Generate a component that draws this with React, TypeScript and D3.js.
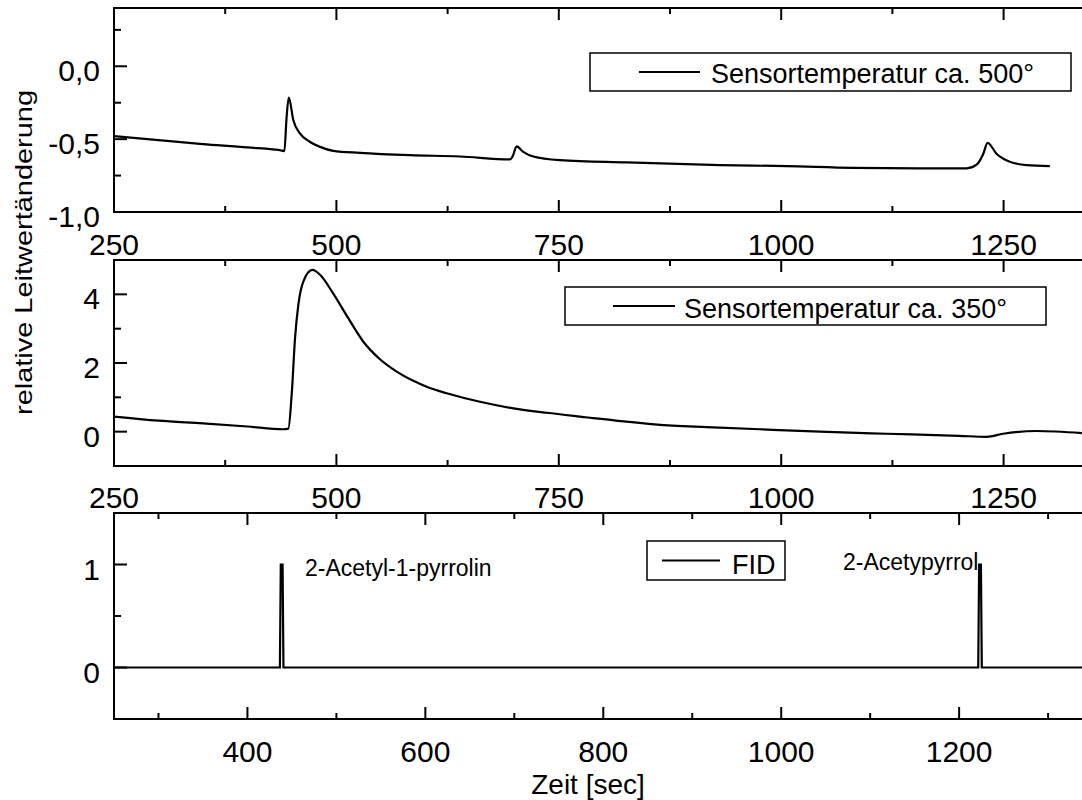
import React from "react";
import * as d3 from "d3";

// ---- Data ----
const t500 = [250, 300, 350, 400, 440, 441.5, 444, 446.5, 451.6, 459, 470, 481.6, 496.5, 526.5, 582.7, 638.9, 695.1, 698, 702.6, 710, 721.4, 751.3, 826.4, 931.2, 1006.2, 1081, 1156, 1208.5, 1219.7, 1227.2, 1232, 1242, 1257, 1276, 1302];
const v500 = [-0.479, -0.507, -0.534, -0.557, -0.58, -0.582, -0.35, -0.215, -0.37, -0.46, -0.518, -0.553, -0.58, -0.594, -0.61, -0.619, -0.639, -0.62, -0.55, -0.587, -0.619, -0.644, -0.66, -0.678, -0.685, -0.697, -0.7, -0.7, -0.675, -0.6, -0.525, -0.6, -0.655, -0.678, -0.685];

const t350 = [250, 300, 350, 400, 440, 446, 449.7, 453.5, 457.2, 462.8, 473, 481.6, 496.5, 511.6, 530.3, 549, 567.8, 586.5, 605, 624, 661.4, 698.9, 736.4, 773.8, 863.8, 931, 976, 1043.6, 1118.6, 1200, 1231, 1249.5, 1287, 1338];
const v350 = [0.44, 0.32, 0.24, 0.15, 0.07, 0.09, 1.07, 2.72, 3.69, 4.37, 4.71, 4.57, 4.02, 3.38, 2.62, 2.11, 1.75, 1.48, 1.27, 1.12, 0.87, 0.68, 0.55, 0.44, 0.2, 0.12, 0.07, 0.0, -0.06, -0.12, -0.15, -0.06, 0.02, -0.04];

const tFID = [250, 436.5, 437.5, 439.5, 440.5, 1221.5, 1222.5, 1224.5, 1225.5, 1350];
const vFID = [0, 0, 1, 1, 0, 0, 1, 1, 0, 0];

const ticksTopX = [250, 500, 750, 1000, 1250];
const ticksTopXMinor = [375, 625, 875, 1125];
const ticksBotX = [400, 600, 800, 1000, 1200];
const ticksBotXMinor = [300, 500, 700, 900, 1100, 1300];

const p1Major = [-1.0, -0.5, 0.0];
const p1Minor = [-0.75, -0.25, 0.25];
const p1Labels = ["-1,0", "-0,5", "0,0"];
const p2Major = [0, 2, 4];
const p2Minor = [1, 3];
const p3Major = [0, 1];
const p3Minor = [0.5];

const FONT = "'Liberation Sans', Arial, Helvetica, sans-serif";

const X0 = 114;
const X1 = 114 + 1100 * 0.8896;
const x = d3.scaleLinear().domain([250, 1350]).range([X0, X1]);

type Panel = { top: number; bottom: number; y: d3.ScaleLinear<number, number> };

const P1: Panel = { top: 8, bottom: 212, y: d3.scaleLinear().domain([-1, 0.4]).range([212, 8]) };
const P2: Panel = { top: 260, bottom: 466, y: d3.scaleLinear().domain([-1, 5]).range([466, 260]) };
const P3: Panel = { top: 513, bottom: 719, y: d3.scaleLinear().domain([-0.5, 1.5]).range([719, 513]) };

function Frame({ p, major, minor }: { p: Panel; major: number[]; minor: number[] }) {
  const sw = 2;
  return (
    <g stroke="#000" strokeWidth={sw} fill="none">
      <line x1={X0} x2={1100} y1={p.top} y2={p.top} />
      <line x1={X0} x2={1100} y1={p.bottom} y2={p.bottom} />
      <line x1={X0} x2={X0} y1={p.top - 1} y2={p.bottom + 1} />
      {major.map((v, i) => (
        <g key={"tM" + i}>
          <line x1={x(v)} x2={x(v)} y1={p.top} y2={p.top + 12} />
          <line x1={x(v)} x2={x(v)} y1={p.bottom} y2={p.bottom - 12} />
        </g>
      ))}
      {minor.map((v, i) => (
        <g key={"tm" + i}>
          <line x1={x(v)} x2={x(v)} y1={p.top} y2={p.top + 6} />
          <line x1={x(v)} x2={x(v)} y1={p.bottom} y2={p.bottom - 6} />
        </g>
      ))}
    </g>
  );
}

function YTicks({ p, major, minor, labels }: { p: Panel; major: number[]; minor: number[]; labels: string[] }) {
  return (
    <g>
      {major.map((v, i) => (
        <g key={"yM" + i}>
          <line x1={X0} x2={X0 + 13} y1={p.y(v)} y2={p.y(v)} stroke="#000" strokeWidth={2} />
          <text x={100} y={p.y(v) + 15} textAnchor="end" fontSize={30} fontFamily={FONT} fill="#000">
            {labels[i]}
          </text>
        </g>
      ))}
      {minor.map((v, i) => (
        <line key={"ym" + i} x1={X0} x2={X0 + 7} y1={p.y(v)} y2={p.y(v)} stroke="#000" strokeWidth={2} />
      ))}
    </g>
  );
}

function XLabels({ vals, baseline }: { vals: number[]; baseline: number }) {
  return (
    <g>
      {vals.map((v, i) => (
        <text key={i} x={x(v)} y={baseline} textAnchor="middle" fontSize={30} fontFamily={FONT} fill="#000">
          {String(v)}
        </text>
      ))}
    </g>
  );
}

function Legend({ x1, y1, x2, y2, lx1, lx2, tx, ty, label }: any) {
  return (
    <g>
      <rect x={x1} y={y1} width={x2 - x1} height={y2 - y1} fill="#fff" stroke="#000" strokeWidth={1.5} />
      <line x1={lx1} x2={lx2} y1={(y1 + y2) / 2} y2={(y1 + y2) / 2} stroke="#000" strokeWidth={2} />
      <text x={tx} y={ty} fontSize={27} fontFamily={FONT} fill="#000">
        {label}
      </text>
    </g>
  );
}

export default function App() {
  const mk = (ts: number[], vs: number[], p: Panel, curve: any) =>
    d3
      .line<number>()
      .x((_, i) => x(ts[i]))
      .y((v) => p.y(v))
      .curve(curve)(vs) as string;

  const path500 = mk(t500, v500, P1, d3.curveMonotoneX);
  const path350 = mk(t350, v350, P2, d3.curveMonotoneX);
  const pathFID = mk(tFID, vFID, P3, d3.curveLinear);

  return (
    <svg width={1082} height={800} style={{ position: "absolute", left: 0, top: 0, background: "#fff" }}>
      <rect x={0} y={0} width={1082} height={800} fill="#fff" />

      {/* Panel 1 */}
      <Frame p={P1} major={ticksTopX} minor={ticksTopXMinor} />
      <YTicks p={P1} major={p1Major} minor={p1Minor} labels={p1Labels} />
      <XLabels vals={ticksTopX} baseline={255} />
      <Legend x1={590} y1={53} x2={1071} y2={91} lx1={639} lx2={700} tx={711} ty={83} label="Sensortemperatur ca. 500°" />
      <path d={path500} fill="none" stroke="#000" strokeWidth={2.2} />

      {/* Panel 2 */}
      <Frame p={P2} major={ticksTopX} minor={ticksTopXMinor} />
      <YTicks p={P2} major={p2Major} minor={p2Minor} labels={p2Major.map(String)} />
      <XLabels vals={ticksTopX} baseline={508} />
      <Legend x1={565} y1={287} x2={1046} y2={325} lx1={613} lx2={675} tx={684} ty={318} label="Sensortemperatur ca. 350°" />
      <path d={path350} fill="none" stroke="#000" strokeWidth={2.2} />

      {/* Panel 3 */}
      <Frame p={P3} major={ticksBotX} minor={ticksBotXMinor} />
      <YTicks p={P3} major={p3Major} minor={p3Minor} labels={p3Major.map(String)} />
      <XLabels vals={ticksBotX} baseline={762} />
      <Legend x1={647} y1={541} x2={785} y2={580} lx1={662} lx2={720} tx={732} ty={574} label="FID" />
      <path d={pathFID} fill="none" stroke="#000" strokeWidth={2.2} />
      <text x={305} y={576} fontSize={23} fontFamily={FONT} fill="#000">2-Acetyl-1-pyrrolin</text>
      <text x={843} y={570} fontSize={23} fontFamily={FONT} fill="#000">2-Acetypyrrol</text>

      {/* Axis titles */}
      <text x={588} y={794} textAnchor="middle" fontSize={28} fontFamily={FONT} fill="#000">Zeit [sec]</text>
      <text
        transform="translate(32,252.5) rotate(-90)"
        textAnchor="middle"
        fontSize={24}
        textLength={325}
        lengthAdjust="spacingAndGlyphs"
        fontFamily={FONT}
        fill="#000"
      >
        relative Leitwertänderung
      </text>
    </svg>
  );
}
